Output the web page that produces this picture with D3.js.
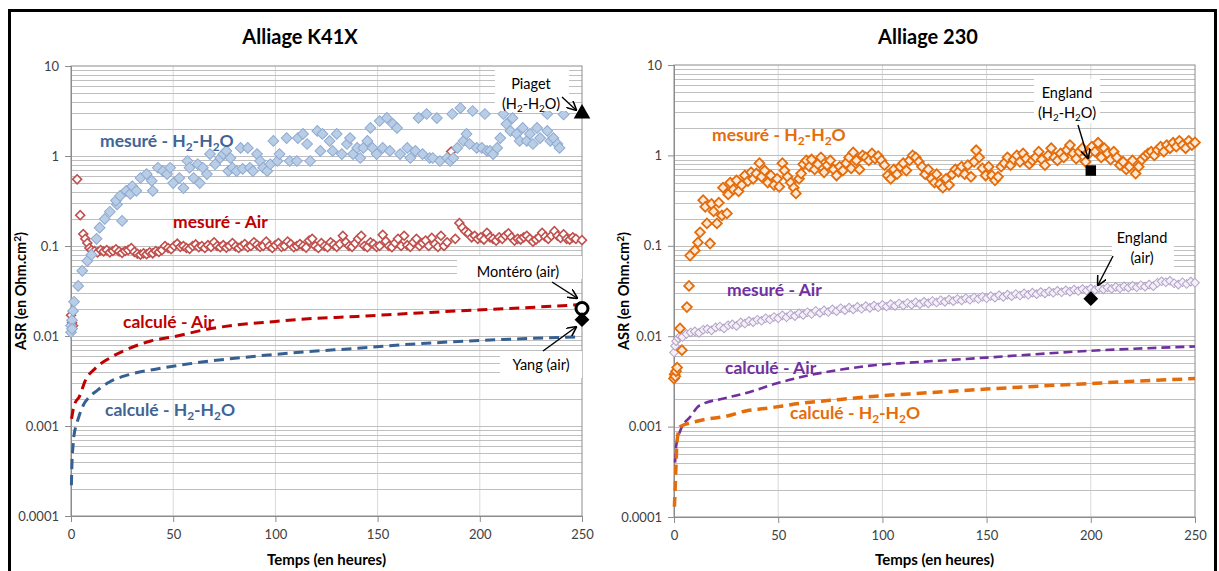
<!DOCTYPE html>
<html><head><meta charset="utf-8">
<script src="https://cdn.jsdelivr.net/npm/d3@7"></script>
<style>
body{margin:0;background:#fff}
svg{display:block}
text{font-family:Lato,"Open Sans","DejaVu Sans",sans-serif}
</style>
</head><body>
<svg id="c" width="1219" height="571"></svg>
<script>
// ---------- axis ticks ----------
const xTicks = [0, 50, 100, 150, 200, 250];
const yTicks = [10, 1, 0.1, 0.01, 0.001, 0.0001];
const yTickLabels = ["10", "1", "0.1", "0.01", "0.001", "0.0001"];
const chartTitles = ["Alliage K41X", "Alliage 230"];

// ---------- Alliage K41X ----------
const k41x_mesure_h2o = [
[0,0.011],[0,0.013],[0.5,0.015],[0.5,0.012],[1,0.019],[1.5,0.024],[3.5,0.036],[5.5,0.053],[8,0.068],[10,0.08],
[12.5,0.12],[14,0.16],[16.5,0.2],[19,0.24],[22.5,0.29],[25,0.19],[22,0.32],[24,0.36],[27,0.41],[29,0.38],
[30,0.46],[32,0.41],[34,0.57],[37,0.63],[39.5,0.53],[40,0.41],[42.5,0.74],[45,0.68],[47,0.63],[48.5,0.74],
[50,0.5],[53,0.57],[55,0.44],[57,0.88],[58,0.74],[60,0.57],[62,0.81],[63,0.5],[64.5,0.74],[66.5,0.63],
[68,1.05],[70.5,0.81],[73,0.95],[74.5,1.05],[76,1.14],[77,0.68],[78,0.95],[79,0.74],[81,0.68],[83,1.23],
[84,0.72],[86.5,1.23],[87.5,0.74],[89,0.68],[91,1.05],[92.5,0.88],[94,0.74],[96,0.68],[97.5,0.81],[99,1.47],
[101,0.88],[102,1.05],[105.5,1.58],[107,0.88],[110.5,0.88],[111,1.58],[113.5,1.76],[115.5,1.36],[117,0.88],[120.5,1.9],
[122,1.14],[123,1.76],[126.5,1.47],[128,1.14],[130,1.76],[132.5,1.05],[135,1.36],[136.5,1.58],[138,1.05],[140,1.23],
[141.5,0.95],[143,1.23],[145,1.47],[146.5,2.05],[147.5,1.23],[149.5,1.05],[151,2.45],[152.5,1.23],[154.5,2.65],[156,1.14],
[157.5,2.27],[159.5,2.05],[161,1.05],[164.5,1.23],[166,0.95],[168.5,1.14],[170,2.65],[172,1.05],[174,2.93],[175.5,0.95],
[177,0.95],[179,2.64],[180.5,0.88],[184,0.95],[185.5,0.88],[186.5,2.93],[187,0.95],[189,1.23],[190.5,3.41],[192,1.47],
[193.5,1.76],[195,1.36],[196.5,3.16],[198.5,1.23],[201,1.23],[202.5,2.93],[203.5,1.14],[205,1.14],[206.5,1.05],[208.5,1.23],
[210,1.58],[211.5,2.93],[213,2.27],[215,1.9],[216,2.64],[218,1.76],[219.5,1.47],[221,2.05],[223,1.47],[224.5,1.76],
[226,1.36],[228,2.05],[229.5,1.58],[233,1.9],[233,2.93],[234.5,1.47],[236,1.58],[238,1.36],[239,1.23],[241,2.9]
];
const k41x_mesure_air = [
[0,0.017],[0.5,0.014],[1,0.013],[3,0.55],[4.5,0.22],[6,0.136],[7,0.12],[8,0.108],[9,0.095],[10,0.09],
[11.5,0.088],[13,0.085],[14.5,0.09],[16,0.087],[17.5,0.09],[19,0.085],[20.5,0.088],[22,0.092],[23.5,0.087],[25,0.084],
[26.5,0.088],[28,0.09],[29.5,0.095],[31,0.086],[32.5,0.082],[34,0.08],[35.5,0.083],[37,0.081],[38.5,0.085],[40,0.083],
[41.5,0.088],[43,0.086],[44.5,0.09],[46,0.1],[47.5,0.095],[49,0.092],[50.5,0.1],[52,0.106],[53.5,0.098],[55,0.1],
[56.5,0.095],[58,0.093],[59.5,0.1],[61,0.104],[62.5,0.097],[64,0.1],[65.5,0.095],[67,0.102],[68.5,0.098],[70,0.11],
[71.5,0.1],[73,0.097],[74.5,0.102],[76,0.096],[77.5,0.1],[79,0.108],[80.5,0.099],[82,0.095],[83.5,0.1],[85,0.105],
[86.5,0.097],[88,0.1],[89.5,0.11],[91,0.103],[92.5,0.098],[94,0.1],[95.5,0.112],[97,0.1],[98.5,0.095],[100,0.102],
[101.5,0.108],[103,0.098],[104.5,0.1],[106,0.112],[107.5,0.105],[109,0.097],[110.5,0.1],[112,0.105],[113.5,0.1],[115,0.096],
[116.5,0.115],[118,0.12],[119.5,0.1],[121,0.095],[122.5,0.108],[124,0.1],[125.5,0.097],[127,0.11],[128.5,0.103],[130,0.098],
[131.5,0.105],[133,0.13],[134.5,0.11],[136,0.1],[137.5,0.098],[139,0.107],[140.5,0.12],[142,0.13],[143.5,0.1],[145,0.097],
[146.5,0.11],[148,0.105],[149.5,0.098],[151,0.1],[152.5,0.133],[154,0.113],[155.5,0.1],[157,0.097],[158.5,0.108],[160,0.12],
[161.5,0.1],[163,0.13],[164.5,0.102],[166,0.098],[167.5,0.11],[169,0.12],[170.5,0.1],[172,0.108],[173.5,0.115],[175,0.1],
[176.5,0.123],[178,0.105],[179.5,0.098],[181,0.13],[182.5,0.1],[184,0.11],[186,1.12],[188,0.12],[190,0.18],[191.5,0.16],
[193,0.145],[194.5,0.138],[196,0.125],[197.5,0.13],[199,0.12],[200.5,0.125],[202,0.118],[203.5,0.14],[205,0.125],[206.5,0.12],
[208,0.115],[209.5,0.125],[211,0.12],[212.5,0.13],[214,0.138],[215.5,0.125],[217,0.115],[218.5,0.12],[220,0.118],[221.5,0.125],
[223,0.13],[224.5,0.12],[226,0.112],[227.5,0.118],[229,0.125],[230.5,0.14],[232,0.127],[233.5,0.12],[235,0.13],[236.5,0.146],
[238,0.13],[239.5,0.123],[241,0.135],[242.5,0.12],[244,0.118],[245.5,0.125],[247,0.12],[250,0.116]
];
const k41x_calc_air = [
[0.3,0.0012],[1,0.0015],[2,0.0018],[4,0.0021],[7,0.0032],[12,0.0044],[19,0.0057],[28,0.0072],[39,0.0088],[50,0.0098],
[66,0.0118],[80,0.0132],[100,0.0145],[112,0.0153],[140,0.0165],[166,0.0178],[190,0.019],[220,0.0205],[248,0.0222]
];
const k41x_calc_h2o = [
[0.2,0.00022],[0.5,0.0004],[1,0.0006],[1.5,0.0008],[2.5,0.001],[4,0.0013],[6,0.0017],[9,0.0021],[13,0.0025],[19,0.0031],
[28,0.0037],[42,0.0043],[63,0.0051],[85,0.0058],[112,0.0066],[140,0.0073],[166,0.0081],[200,0.0089],[248,0.0098]
];
const k41x_refs = [
{name:"Piaget", t:250, v:2.95, shape:"triangle"},
{name:"Montéro", t:250, v:0.0202, shape:"circle"},
{name:"Yang", t:250, v:0.0152, shape:"diamond"}
];

// ---------- Alliage 230 ----------
const a230_mesure_h2o = [
[0,0.0034],[0.3,0.0038],[0.6,0.0036],[1,0.0041],[1.5,0.0045],[2.9,0.0122],[3.8,0.007],[6.2,0.021],[7.2,0.036],[7.7,0.078],
[10,0.089],[11.5,0.109],[12.5,0.141],[14,0.32],[15,0.27],[15.8,0.177],[17.3,0.106],[18,0.29],[19,0.24],[20.6,0.177],
[21.5,0.3],[23,0.217],[23.5,0.44],[25.4,0.228],[26,0.37],[27,0.5],[28.5,0.42],[30,0.53],[31,0.4],[32.5,0.47],
[34,0.6],[35.5,0.52],[37,0.65],[38,0.55],[39.5,0.63],[41,0.82],[42,0.58],[43.5,0.68],[45,0.5],[46.5,0.6],
[48,0.47],[49.5,0.55],[50.5,0.45],[52,0.82],[53,0.68],[54.5,0.58],[56,0.5],[57.5,0.44],[58.5,0.38],[60,0.55],
[61,0.63],[62,0.8],[63.5,0.88],[65,0.75],[66,0.9],[67.5,0.7],[69,0.8],[70.5,0.95],[72,0.65],[73.5,0.78],
[75,0.88],[76.5,0.7],[78,0.6],[79.5,0.75],[81,0.68],[82.5,0.82],[84,0.95],[85,0.72],[86,1.08],[87.5,0.88],
[89,0.7],[90.5,1.0],[92,0.95],[93.5,0.88],[95,1.05],[96.5,0.92],[98,0.98],[99.5,0.88],[101,0.78],[102.5,0.6],
[104,0.55],[105.5,0.7],[107,0.62],[108.5,0.75],[110,0.82],[111.5,0.68],[113,0.88],[114.5,1.0],[116,0.95],[117.5,0.85],
[119,0.75],[120.5,0.62],[122,0.7],[123.5,0.55],[125,0.5],[126,0.62],[127.5,0.48],[129,0.44],[130.5,0.55],[132,0.47],
[133.5,0.62],[135,0.7],[136.5,0.66],[138,0.75],[139.5,0.62],[141,0.78],[142.5,0.58],[144,0.85],[145,1.14],[146.5,0.95],
[148,0.72],[149.5,0.6],[151,0.75],[152.5,0.6],[154,0.53],[155.5,0.58],[157,0.75],[158.5,0.82],[160,0.95],[161.5,0.78],
[163,0.9],[164.5,1.0],[166,0.85],[167.5,1.05],[169,0.92],[170.5,0.8],[172,0.88],[173.5,0.95],[175,1.1],[176.5,0.9],
[178,0.78],[179.5,1.0],[181,1.2],[182.5,0.95],[184,0.88],[185.5,1.05],[187,0.95],[188.5,1.15],[190,1.3],[191.5,1.05],
[193,0.92],[194.5,1.1],[196,1.2],[197.5,0.85],[199,1.05],[200.5,1.25],[202,1.1],[203.5,1.38],[205,0.95],[206.5,1.2],
[208,1.05],[209.5,0.9],[211,1.1],[212.5,0.95],[214,0.78],[215.5,0.85],[217,0.7],[218.5,0.75],[220,0.88],[221.5,0.63],
[223,0.75],[224.5,0.9],[226,0.98],[227.5,1.05],[229,1.1],[230.5,1.0],[232,1.15],[233.5,1.25],[235,1.1],[236.5,1.3],
[238,1.2],[239.5,1.38],[241,1.25],[242.5,1.45],[244,1.3],[245.5,1.2],[247,1.45],[248.5,1.3],[250,1.39]
];
const a230_mesure_air = [
[0,0.0066],[0.5,0.0078],[1,0.0088],[2,0.0095],[3,0.01],[4,0.0098],[6,0.0106],[8,0.011],[10,0.0113],[12,0.0109],
[14,0.0118],[16,0.012],[18,0.0116],[20,0.0125],[22,0.0128],[24,0.0122],[26,0.0132],[28,0.0135],[30,0.013],[32,0.0142],
[34,0.0138],[36,0.0147],[38,0.0143],[40,0.0152],[42,0.0148],[44,0.0158],[46,0.0153],[48,0.0163],[50,0.0158],[52,0.017],
[54,0.0162],[56,0.0174],[58,0.0167],[60,0.0179],[62,0.0172],[64,0.0184],[66,0.0176],[68,0.019],[70,0.0181],[72,0.0193],
[74,0.0185],[76,0.0198],[78,0.0189],[80,0.0204],[82,0.0194],[84,0.0207],[86,0.0198],[88,0.0211],[90,0.0201],[92,0.0215],
[94,0.0206],[96,0.0218],[98,0.0209],[100,0.0222],[102,0.0213],[104,0.0226],[106,0.0216],[108,0.023],[110,0.0219],[112,0.0233],
[114,0.0223],[116,0.0237],[118,0.0226],[120,0.024],[122,0.0231],[124,0.0245],[126,0.0236],[128,0.025],[130,0.024],[132,0.0254],
[134,0.0244],[136,0.0258],[138,0.0249],[140,0.0263],[142,0.0253],[144,0.0268],[146,0.0258],[148,0.0273],[150,0.0263],[152,0.0278],
[154,0.0267],[156,0.0283],[158,0.0272],[160,0.0288],[162,0.0277],[164,0.0293],[166,0.0282],[168,0.0298],[170,0.0287],[172,0.0303],
[174,0.0292],[176,0.0308],[178,0.0297],[180,0.0313],[182,0.0302],[184,0.0318],[186,0.0306],[188,0.0322],[190,0.0311],[192,0.0327],
[194,0.0316],[196,0.0332],[198,0.032],[200,0.0336],[202,0.0325],[204,0.0341],[206,0.033],[208,0.0346],[210,0.0334],[212,0.0351],
[214,0.0339],[216,0.0356],[218,0.0344],[220,0.0361],[222,0.0348],[224,0.0366],[226,0.0353],[228,0.0372],[230,0.0358],[232,0.039],
[234,0.0405],[236,0.0395],[238,0.041],[240,0.0385],[242,0.0372],[244,0.0395],[246,0.0378],[248,0.0402],[250,0.039]
];
const a230_calc_air = [
[0.5,0.0004],[1,0.0006],[3,0.0009],[8,0.0013],[12,0.0017],[26,0.0021],[36,0.0024],[49,0.003],[65,0.0037],[81,0.0043],
[97,0.0048],[113,0.0051],[150,0.0058],[200,0.0069],[250,0.0077]
];
const a230_calc_h2o = [
[0.2,0.00013],[0.6,0.00022],[1,0.0004],[1.5,0.0007],[3,0.001],[8,0.0011],[15,0.0012],[25,0.0013],[35,0.0015],[45,0.0016],
[60,0.0018],[80,0.002],[100,0.0022],[113,0.0023],[150,0.0026],[200,0.003],[250,0.0034]
];
const a230_refs = [
{name:"England H2O", t:200, v:0.68, shape:"square"},
{name:"England air", t:200, v:0.026, shape:"diamond"}
];

// ---------- drawing ----------
const svg = d3.select("#c");
svg.append("rect").attr("width",1219).attr("height",571).attr("fill","#fff");
const defs = svg.append("defs");
defs.append("marker").attr("id","arr").attr("viewBox","0 0 10 10").attr("refX",9).attr("refY",5)
  .attr("markerWidth",7).attr("markerHeight",7).attr("orient","auto-start-reverse")
  .append("path").attr("d","M0,0 L10,5 L0,10").attr("fill","none").attr("stroke","#000").attr("stroke-width",1.6);

function rich(sel, str){
  // "_2" => subscript 2
  const parts = str.split(/(_\d)/).filter(p=>p);
  let shift = 0;
  parts.forEach(p=>{
    if(p[0]==="_"){
      sel.append("tspan").attr("font-size","0.68em").attr("dy","0.3em").text(p.slice(1));
      shift = 1;
    } else {
      const ts = sel.append("tspan").text(p);
      if(shift){ ts.attr("dy","-0.204em"); shift = 0; }
    }
  });
}

function panel(cfg){
  const x = d3.scaleLinear().domain([0,250]).range([cfg.x0,cfg.x1]);
  const y = d3.scaleLog().domain([0.0001,10]).range([cfg.y1,cfg.y0]);
  const g = svg.append("g");
  g.selectAll(".vg").data(xTicks.slice(1,-1)).join("line")
    .attr("x1",d=>x(d)).attr("x2",d=>x(d)).attr("y1",cfg.y0).attr("y2",cfg.y1)
    .attr("stroke","#d9d9d9").attr("stroke-width",1);
  const hv = [];
  for(let e=-4;e<1;e++){ for(let m=1;m<10;m++){ hv.push(m*Math.pow(10,e)); } }
  g.selectAll(".hg").data(hv).join("line")
    .attr("x1",cfg.x0).attr("x2",cfg.x1).attr("y1",d=>Math.round(y(d))+0.5).attr("y2",d=>Math.round(y(d))+0.5)
    .attr("stroke","#bfbfbf").attr("stroke-width",1);
  g.append("rect").attr("x",cfg.x0).attr("y",cfg.y0).attr("width",cfg.x1-cfg.x0).attr("height",cfg.y1-cfg.y0)
    .attr("fill","none").attr("stroke","#8c8c8c").attr("stroke-width",1);
  const ya = g.append("g").attr("transform",`translate(${cfg.x0},0)`)
    .call(d3.axisLeft(y).tickValues(yTicks).tickFormat((d,i)=>yTickLabels[i]).tickSize(6).tickPadding(6));
  const xa = g.append("g").attr("transform",`translate(0,${cfg.y1})`)
    .call(d3.axisBottom(x).tickValues(xTicks).tickSize(6).tickPadding(8));
  [ya,xa].forEach(a=>{
    a.select(".domain").attr("stroke","#8c8c8c");
    a.selectAll(".tick line").attr("stroke","#8c8c8c");
    a.selectAll("text").attr("font-size",13).attr("fill","#404040").attr("font-family","Lato, sans-serif");
  });
  svg.append("text").attr("x",cfg.titleX).attr("y",44).attr("text-anchor","middle")
    .attr("font-size",20).attr("font-weight","bold").attr("fill","#000").text(cfg.title);
  svg.append("text").attr("x",(cfg.x0+cfg.x1)/2).attr("y",565).attr("text-anchor","middle")
    .attr("font-size",15).attr("font-weight","bold").attr("fill","#000").text("Temps (en heures)");
  const yt = svg.append("text").attr("transform",`translate(${cfg.x0-45},${(cfg.y0+cfg.y1)/2}) rotate(-90)`)
    .attr("text-anchor","middle").attr("font-size",14.5).attr("font-weight","bold").attr("fill","#000");
  yt.append("tspan").text("ASR (en Ohm.cm");
  yt.append("tspan").attr("font-size","0.7em").attr("dy","-0.45em").text("2");
  yt.append("tspan").attr("dy","0.315em").text(")");
  return {x,y,g};
}

function dashed(p, data, color, w, dash){
  p.g.append("path").datum(data)
    .attr("d", d3.line().x(d=>p.x(d[0])).y(d=>p.y(d[1])).curve(d3.curveMonotoneX))
    .attr("fill","none").attr("stroke",color).attr("stroke-width",w).attr("stroke-dasharray",dash);
}
function diamonds(p, data, size, fill, stroke, sw){
  const sym = d3.symbol().type(d3.symbolSquare).size(size);
  p.g.append("g").selectAll("path").data(data).join("path")
    .attr("d",sym()).attr("transform",d=>`translate(${p.x(d[0])},${p.y(d[1])}) rotate(45)`)
    .attr("fill",fill).attr("stroke",stroke).attr("stroke-width",sw);
}
function whiteBox(x,y,w,h){ svg.append("rect").attr("x",x).attr("y",y).attr("width",w).attr("height",h).attr("fill","#fff"); }
function label(x,y,str,color,size,weight,anchor){
  const t = svg.append("text").attr("x",x).attr("y",y).attr("fill",color).attr("font-size",size)
    .attr("font-weight",weight||"bold").attr("text-anchor",anchor||"start");
  rich(t,str);
  return t;
}
function arrow(x1,y1,x2,y2){
  svg.append("line").attr("x1",x1).attr("y1",y1).attr("x2",x2).attr("y2",y2)
    .attr("stroke","#000").attr("stroke-width",1.4).attr("marker-end","url(#arr)");
}
function refMark(p, r){
  const cx = p.x(r.t), cy = p.y(r.v);
  if(r.shape==="triangle"){
    svg.append("path").attr("d",d3.symbol().type(d3.symbolTriangle).size(120)()).attr("transform",`translate(${cx},${cy})`).attr("fill","#000");
  } else if(r.shape==="circle"){
    svg.append("circle").attr("cx",cx).attr("cy",cy).attr("r",6).attr("fill","#fff").attr("stroke","#000").attr("stroke-width",3);
  } else if(r.shape==="diamond"){
    svg.append("path").attr("d",d3.symbol().type(d3.symbolSquare).size(110)()).attr("transform",`translate(${cx},${cy}) rotate(45)`).attr("fill","#000");
  } else if(r.shape==="square"){
    svg.append("path").attr("d",d3.symbol().type(d3.symbolSquare).size(110)()).attr("transform",`translate(${cx},${cy})`).attr("fill","#000");
  }
}

// ---- Left panel ----
const L = panel({x0:71,x1:582,y0:66,y1:516,title:chartTitles[0],titleX:300});
dashed(L, k41x_calc_air, "#c00000", 3, "10,6");
dashed(L, k41x_calc_h2o, "#376092", 3, "10,6");
diamonds(L, k41x_mesure_air, 40, "#fff", "#c0504d", 1.6);
diamonds(L, k41x_mesure_h2o, 58, "#b9cde5", "#8eaad3", 1);
whiteBox(495,68,74,43);
whiteBox(457,256,125,23);
whiteBox(500,351,82,27);
label(531,89,"Piaget","#000",14.5,"normal","middle");
label(531,109,"(H_2-H_2O)","#000",14.5,"normal","middle");
label(518,277,"Montéro (air)","#000",14.5,"normal","middle");
label(541,370,"Yang (air)","#000",14.5,"normal","middle");
arrow(562,97,576,110);
arrow(552,282,577,298);
arrow(543,351,576,327);
k41x_refs.forEach(r=>refMark(L,r));
label(100,147,"mesuré - H_2-H_2O","#3f6496",17.5);
label(173,228,"mesuré - Air","#c00000",17.5);
label(123,328,"calculé - Air","#c00000",17.5);
label(105,416,"calculé - H_2-H_2O","#3f6496",17.5);

// ---- Right panel ----
const R = panel({x0:674,x1:1195,y0:65,y1:517,title:chartTitles[1],titleX:928});
dashed(R, a230_calc_air, "#7030a0", 2.6, "9,5");
dashed(R, a230_calc_h2o, "#e46c0a", 3.5, "10,6");
diamonds(R, a230_mesure_air, 38, "#f4f0f8", "#b3a2c7", 1);
diamonds(R, a230_mesure_h2o, 48, "#fde9d9", "#e46c0a", 1.8);
whiteBox(1034,79,66,44);
whiteBox(1112,225,62,42);
label(1067,98,"England","#000",14.5,"normal","middle");
label(1067,118,"(H_2-H_2O)","#000",14.5,"normal","middle");
label(1142,243,"England","#000",14.5,"normal","middle");
label(1142,263,"(air)","#000",14.5,"normal","middle");
arrow(1078,125,1088,158);
arrow(1113,256,1098,285);
a230_refs.forEach(r=>refMark(R,r));
label(712,141,"mesuré - H_2-H_2O","#e46c0a",17.5);
label(727,296,"mesuré - Air","#7030a0",17.5);
label(725,374,"calculé - Air","#7030a0",17.5);
label(790,419,"calculé - H_2-H_2O","#e46c0a",17.5);

// outer frame
svg.append("rect").attr("x",9.5).attr("y",10.5).attr("width",1206).attr("height",580)
  .attr("fill","none").attr("stroke","#000").attr("stroke-width",3);
</script>
</body></html>
